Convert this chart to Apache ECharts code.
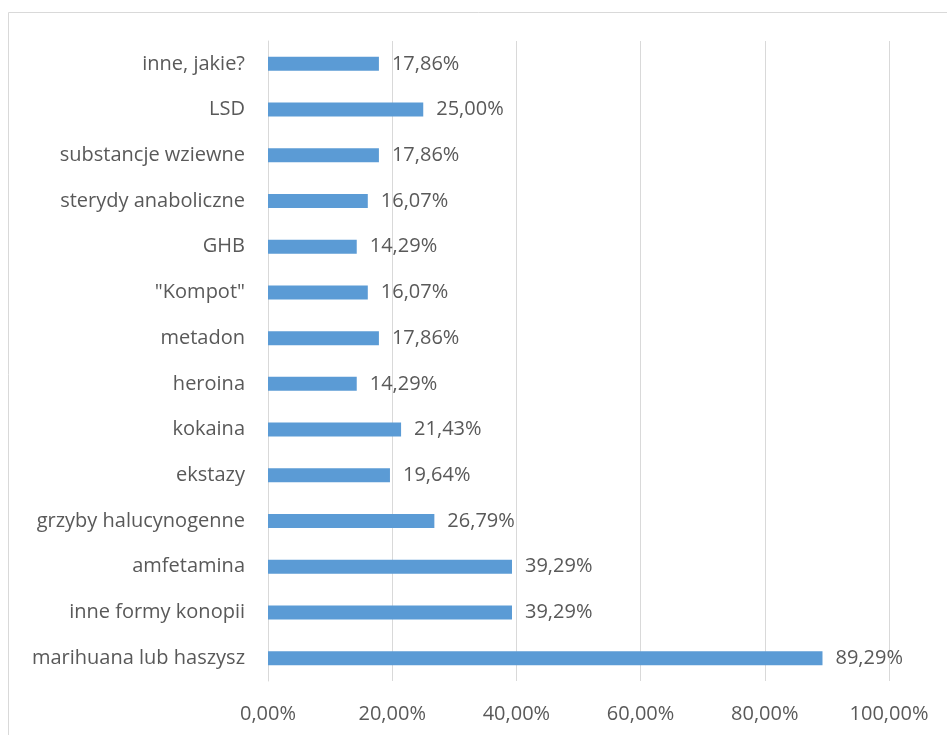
<!DOCTYPE html>
<html>
<head>
<meta charset="utf-8">
<script src="https://cdn.jsdelivr.net/npm/echarts@6/dist/echarts.min.js"></script>
<style>
  html, body { margin: 0; padding: 0; background: #fff; }
  #chart { width: 947px; height: 735px; }
</style>
</head>
<body>
<div id="chart"></div>
<script>
// kategorie od dołu do góry
var categories = ['marihuana lub haszysz', 'inne formy konopii', 'amfetamina', 'grzyby halucynogenne',
    'ekstazy', 'kokaina', 'heroina', 'metadon', '"Kompot"', 'GHB', 'sterydy anaboliczne',
    'substancje wziewne', 'LSD', 'inne, jakie?'];
var values = [89.29, 39.29, 39.29, 26.79, 19.64, 21.43, 14.29, 17.86, 16.07, 14.29, 16.07, 17.86, 25.00, 17.86];
var xTicks = [0, 20, 40, 60, 80, 100];

function pct(v) {
    return v.toFixed(2).replace('.', ',') + '%';
}

var dom = document.getElementById('chart');
var myChart = echarts.init(dom);
myChart.setOption({
    animation: false,
    textStyle: { fontFamily: 'Open Sans' },
    graphic: [{
        type: 'rect',
        shape: { x: 8.5, y: 12.5, width: 960, height: 760 },
        style: { fill: 'none', stroke: '#d9d9d9', lineWidth: 1 },
        silent: true
    }],
    grid: { left: 268, right: 58, top: 41, bottom: 54 },
    xAxis: {
        type: 'value',
        min: xTicks[0],
        max: xTicks[xTicks.length - 1],
        interval: 20,
        axisLine: { show: false },
        axisTick: { show: false },
        splitLine: { lineStyle: { color: '#d9d9d9', width: 1 } },
        axisLabel: {
            color: '#595959',
            fontSize: 20,
            margin: 23,
            formatter: function (v) { return pct(v); }
        }
    },
    yAxis: {
        type: 'category',
        data: categories,
        axisLine: { show: true, lineStyle: { color: '#d9d9d9' } },
        axisTick: { show: false },
        axisLabel: { color: '#595959', fontSize: 20, margin: 23 }
    },
    series: [{
        type: 'bar',
        data: values,
        barWidth: 14,
        itemStyle: { color: '#5b9bd5' },
        label: {
            show: true,
            position: 'right',
            distance: 13,
            color: '#595959',
            fontSize: 20,
            formatter: function (p) { return pct(p.value); }
        }
    }]
});
window.addEventListener('resize', function () {
    myChart.resize();
});
</script>
</body>
</html>
